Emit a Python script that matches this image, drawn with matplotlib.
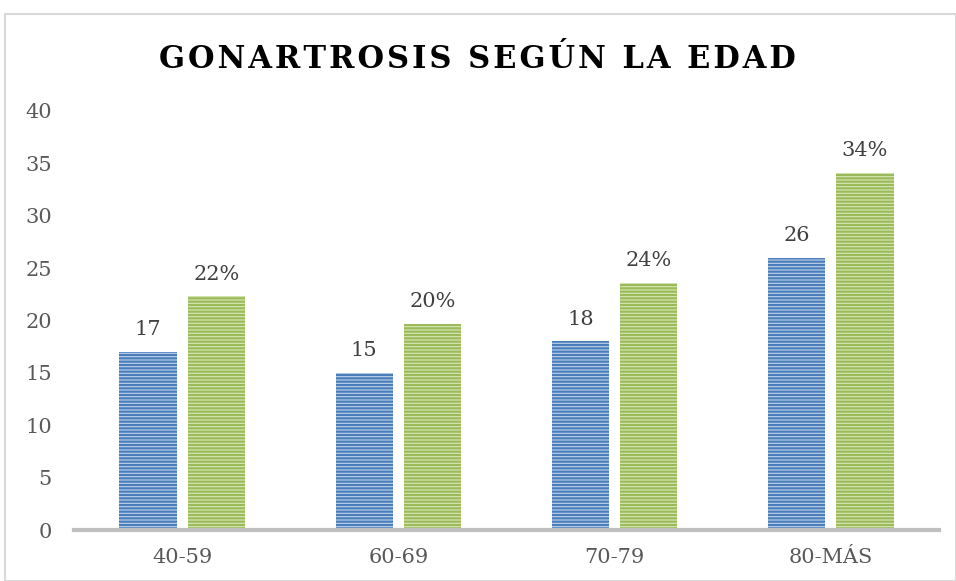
import matplotlib.pyplot as plt
import numpy as np
from matplotlib.patches import Rectangle

categories = ['40-59', '60-69', '70-79', '80-MÁS']
casos = [17, 15, 18, 26]
porcentaje = [22.3, 19.7, 23.6, 34.1]
etiquetas_casos = ['17', '15', '18', '26']
etiquetas_pct = ['22%', '20%', '24%', '34%']
titulo = 'GONARTROSIS SEGÚN LA EDAD'

plt.rcParams['font.family'] = ['DejaVu Serif']
plt.rcParams['hatch.linewidth'] = 1.6

fig = plt.figure(figsize=(9.56, 5.81), dpi=100)
ax = fig.add_axes([74 / 956, 51 / 581, 865 / 956, 419 / 581])

x = np.arange(len(categories))
w = 0.265
off = 0.158

b1 = ax.bar(x - off, casos, w, color='#c0d2ea', edgecolor='#4a7ebb', hatch='-----', linewidth=0)
b2 = ax.bar(x + off, porcentaje, w, color='#d8e6b8', edgecolor='#9bbb59', hatch='-----', linewidth=0)

for xi, v, t in zip(x, casos, etiquetas_casos):
    ax.text(xi - off, v + 1.2, t, ha='center', va='bottom', fontsize=15, color='#404040')
for xi, v, t in zip(x, porcentaje, etiquetas_pct):
    ax.text(xi + off, v + 1.2, t, ha='center', va='bottom', fontsize=15, color='#404040')

ax.set_xlim(-0.5, 3.5)
ax.set_ylim(0, 40)
ax.set_yticks(range(0, 41, 5))
ax.set_xticks(x)
ax.set_xticklabels(categories)
ax.tick_params(axis='both', length=0, labelsize=15, labelcolor='#595959')
ax.tick_params(axis='y', pad=16)
ax.tick_params(axis='x', pad=13)
for s in ['top', 'right', 'left']:
    ax.spines[s].set_visible(False)
ax.spines['bottom'].set_color('#bfbfbf')
ax.spines['bottom'].set_linewidth(3)

# letter-spaced title
fig.text(477 / 956, 1 - 60 / 581, '\u200a'.join(titulo), ha='center', va='center',
         fontsize=22, fontweight='bold', color='black')

fig.patches.append(Rectangle((5 / 956, 0), 951 / 956, 1 - 14 / 581, transform=fig.transFigure,
                             fill=False, edgecolor='#d9d9d9', linewidth=1.5))

fig.savefig('out.png', dpi=100)
